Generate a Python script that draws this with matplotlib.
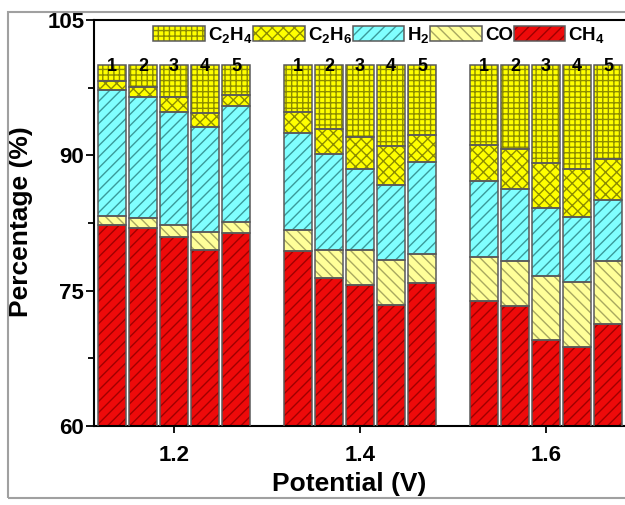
import matplotlib
matplotlib.use("Agg")
import matplotlib.pyplot as plt
from matplotlib.patches import Patch, Rectangle
from matplotlib.legend_handler import HandlerTuple
import numpy as np

plt.rcParams['font.family'] = ['Liberation Sans', 'DejaVu Sans']
plt.rcParams['font.weight'] = 'bold'
plt.rcParams['mathtext.fontset'] = 'custom'
plt.rcParams['mathtext.bf'] = 'Liberation Sans:bold'
plt.rcParams['mathtext.rm'] = 'Liberation Sans:bold'
plt.rcParams['mathtext.default'] = 'bf'
plt.rcParams['hatch.linewidth'] = 1.0

potentials = [1.2, 1.4, 1.6]
samples = ['1', '2', '3', '4', '5']
# percentages per potential group, samples 1..5
CH4 = [[82.3, 81.9, 80.9, 79.5, 81.4],
       [79.4, 76.4, 75.6, 73.4, 75.8],
       [73.9, 73.3, 69.5, 68.8, 71.3]]
CO = [[1.0, 1.1, 1.4, 2.0, 1.2],
      [2.3, 3.1, 3.9, 5.0, 3.3],
      [4.8, 5.0, 7.1, 7.2, 7.0]]
H2 = [[13.9, 13.5, 12.5, 11.6, 12.9],
      [10.8, 10.7, 9.0, 8.3, 10.2],
      [8.5, 8.0, 7.6, 7.2, 6.8]]
C2H6 = [[1.0, 1.1, 1.7, 1.6, 1.2],
        [2.3, 2.7, 3.5, 4.3, 3.0],
        [3.9, 4.4, 5.0, 5.3, 4.5]]
C2H4 = [[1.8, 2.4, 3.5, 5.3, 3.3],
        [5.2, 7.1, 8.0, 9.0, 7.7],
        [8.9, 9.3, 10.8, 11.5, 10.4]]

species = [
    ('CH4', CH4, 'CH$_4$', '#ee0a0a', '#a00000', '///'),
    ('CO', CO, 'CO', '#ffff99', '#a8a860', '\\\\\\'),
    ('H2', H2, 'H$_2$', '#80ffff', '#3a9a9a', '///'),
    ('C2H6', C2H6, 'C$_2$H$_6$', '#ffff00', '#8c8c00', 'xxx'),
    ('C2H4', C2H4, 'C$_2$H$_4$', '#ffff00', '#8c8c00', '+++'),
]

W, H = 625, 505
fig = plt.figure(figsize=(W/100, H/100), dpi=100)
# outer frame
fig.patches.append(Rectangle((8/W, 1-498/H), 1.2, (498-12)/H, transform=fig.transFigure,
                             fill=False, edgecolor='#a0a0a0', linewidth=1.5, zorder=0))
ax_w_px = 1.05*W - 94
ax = fig.add_axes([94/W, 1-426/H, ax_w_px/W, (426-20)/H])

step = 0.2 * 31 / 186
width = 0.2 * 28 / 186
handles = {}
for gi, p in enumerate(potentials):
    xs = [p + (i - 2) * step for i in range(len(samples))]
    bottom = np.zeros(len(samples))
    for key, vals, label, fc, hc, hatch in species:
        v = np.array(vals[gi])
        ax.bar(xs, v, width, bottom=bottom, color=fc, edgecolor=hc, hatch=hatch, linewidth=0, zorder=2)
        ax.bar(xs, v, width, bottom=bottom, fill=False, edgecolor='#5a5a5a', linewidth=1.1, zorder=3)
        bottom = bottom + v
        if key not in handles:
            handles[key] = (Patch(facecolor=fc, edgecolor=hc, hatch=hatch, linewidth=0),
                            Patch(fill=False, edgecolor='#5a5a5a', linewidth=1.1), label)
    for x, s in zip(xs, samples):
        ax.text(x, 99.9, s, ha='center', va='center', fontsize=13, fontweight='bold', zorder=4)

ax.set_ylim(60, 105)
x0 = 1.2 - 0.2 * 80 / 186
ax.set_xlim(x0, x0 + ax_w_px * 0.2 / 186)
ax.set_yticks([60, 75, 90, 105])
ax.set_yticks([67.5, 82.5, 97.5], minor=True)
ax.set_xticks(potentials)
ax.set_xticklabels(['1.2', '1.4', '1.6'])
ax.tick_params(axis='y', which='major', direction='out', length=6, width=1.3, labelsize=16, pad=1)
ax.tick_params(axis='x', which='major', direction='out', length=5, width=1.3, labelsize=16, pad=9)
ax.tick_params(axis='y', which='minor', direction='out', length=4, width=1.3)
ax.tick_params(top=False, right=False)
for lab in ax.get_xticklabels() + ax.get_yticklabels():
    lab.set_fontweight('bold')
for s in ax.spines.values():
    s.set_linewidth(1.5)
ax.set_ylabel('Percentage (%)', fontsize=19, fontweight='bold')
ax.set_xlabel('Potential (V)', fontsize=19, fontweight='bold')
ax.xaxis.label.set_va('center')
ax.yaxis.label.set_va('center')
ax.xaxis.set_label_coords((349 - 94) / ax_w_px, -(484 - 426) / 406)
ax.yaxis.set_label_coords(-(94 - 21) / ax_w_px, (426 - 222) / 406)

order = ['C2H4', 'C2H6', 'H2', 'CO', 'CH4']
leg = ax.legend([handles[k][:2] for k in order], [handles[k][2] for k in order],
                handler_map={tuple: HandlerTuple(ndivide=1)},
                loc='center', bbox_to_anchor=(379/W, 1-35/H), bbox_transform=fig.transFigure,
                ncol=5, frameon=False, fontsize=13.5, handlelength=2.75, handleheight=0.85,
                handletextpad=0.15, columnspacing=0.05, borderaxespad=0)
for t in leg.get_texts():
    t.set_fontweight('bold')

fig.savefig('out.png', dpi=100)
